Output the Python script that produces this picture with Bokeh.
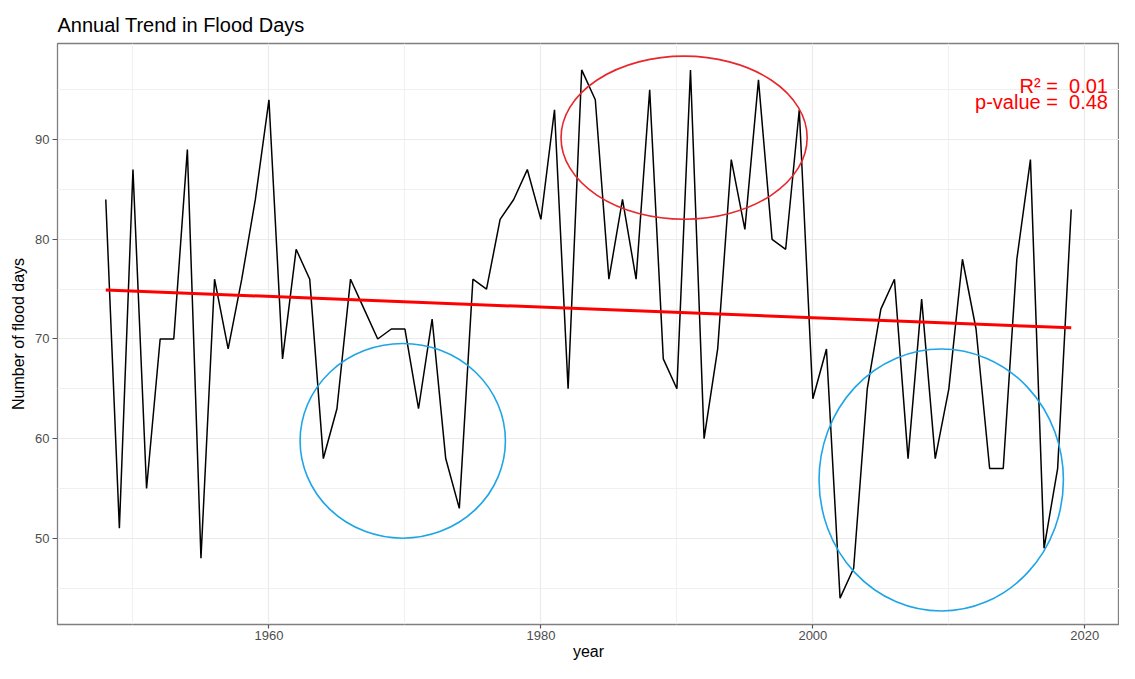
import numpy as np
from bokeh.plotting import figure
from bokeh.models import FixedTicker, Range1d, ColumnDataSource
from bokeh.core.properties import value
from bokeh.embed import file_html
from bokeh.resources import INLINE

# ---- data ----
years = list(range(1948, 2020))
flood_days = [84, 51, 87, 55, 70, 70, 89, 48, 76, 69,
              76, 84, 94, 68, 79, 76, 58, 63, 76, 73,
              70, 71, 71, 63, 72, 58, 53, 76, 75, 82,
              84, 87, 82, 93, 65, 97, 94, 76, 84, 76,
              95, 68, 65, 97, 60, 69, 88, 81, 96, 80,
              79, 93, 64, 69, 44, 47, 65, 73, 76, 58,
              74, 58, 65, 78, 71, 57, 57, 78, 88, 49,
              57, 83]

x_major = [1960, 1980, 2000, 2020]
x_minor = [1950, 1970, 1990, 2010]
y_major = [50, 60, 70, 80, 90]
y_minor = [45, 55, 65, 75, 85, 95]

# highlight ellipses (centre x, centre y, width, height) in data units
ell_x = [1990.53, 1969.84, 2009.44]
ell_y = [90.2, 59.78, 55.85]
ell_w = [18.1, 15.1, 17.97]
ell_h = [16.37, 19.55, 26.3]
ell_color = ["#E8262B", "#1EA5E6", "#1EA5E6"]

NB = "\u00a0"
stat_text = ["R\u00b2 =" + NB + NB + "0.01", "p-value =" + NB + NB + "0.48"]
stat_x = [2021.7, 2021.7]
stat_y = [95.35, 93.8]

title_text = "Annual Trend in Flood Days"
FONT = "Liberation Sans"

# linear fit
coef = np.polyfit(years, flood_days, 1)
fit_x = [years[0], years[-1]]
fit_y = [float(np.polyval(coef, v)) for v in fit_x]

p = figure(width=1119, height=663,
           x_range=Range1d(1944.45, 2022.55), y_range=Range1d(41.35, 99.65),
           output_backend="svg", toolbar_location=None,
           min_border_left=57, min_border_right=0,
           min_border_top=43, min_border_bottom=39,
           background_fill_color="white", border_fill_color="white")

p.title.text = title_text
p.title.text_font = FONT
p.title.text_font_size = "20px"
p.title.text_font_style = "normal"
p.title.text_color = "#000000"
p.title.align = "left"
p.title.offset = 0
p.title.standoff = 16

p.outline_line_color = "#7F7F7F"
p.outline_line_width = 1.3

for ax in (p.xaxis[0], p.yaxis[0]):
    ax.axis_line_color = None
    ax.major_tick_line_color = "#555555"
    ax.major_tick_line_width = 1.2
    ax.major_tick_out = 5
    ax.major_tick_in = 0
    ax.minor_tick_line_color = None
    ax.major_label_text_font = FONT
    ax.major_label_text_font_size = "13px"
    ax.major_label_text_color = "#4D4D4D"
    ax.major_label_standoff = 3
    ax.axis_label_text_font = FONT
    ax.axis_label_text_font_size = "16px"
    ax.axis_label_text_font_style = "normal"
    ax.axis_label_text_color = "#000000"

p.xaxis[0].ticker = FixedTicker(ticks=x_major, minor_ticks=x_minor)
p.yaxis[0].ticker = FixedTicker(ticks=y_major, minor_ticks=y_minor)
p.xaxis[0].axis_label = "year"
p.yaxis[0].axis_label = "Number of flood days"
p.xaxis[0].major_tick_out = 4
p.xaxis[0].major_label_standoff = 2
p.xaxis[0].axis_label_standoff = 0
p.yaxis[0].axis_label_standoff = 5

for g in (p.xgrid[0], p.ygrid[0]):
    g.grid_line_color = "#EBEBEB"
    g.grid_line_width = 1.2
    g.minor_grid_line_color = "#F0F0F0"
    g.minor_grid_line_width = 1.0

p.line(years, flood_days, line_color="black", line_width=1.5)
p.line(fit_x, fit_y, line_color="#FF0000", line_width=3)

ell_src = ColumnDataSource(dict(x=ell_x, y=ell_y, w=ell_w, h=ell_h, c=ell_color))
p.ellipse(x="x", y="y", width="w", height="h", source=ell_src,
          fill_color=None, line_color="c", line_width=1.6)

txt_src = ColumnDataSource(dict(x=stat_x, y=stat_y, t=stat_text))
p.text(x="x", y="y", text="t", source=txt_src, text_align="right",
       text_baseline="alphabetic", text_color="#FF0000",
       text_font=value(FONT), text_font_size="20px")

open("out.html", "w").write(file_html(p, INLINE))
